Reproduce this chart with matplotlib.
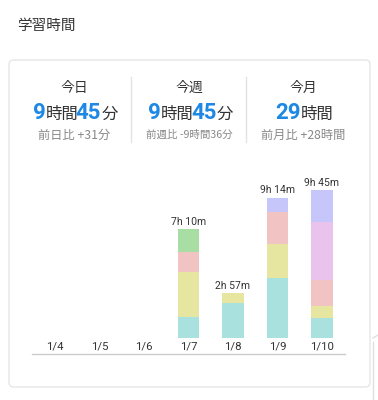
import matplotlib
matplotlib.use('Agg')
import matplotlib.pyplot as plt
from matplotlib.patches import FancyBboxPatch
from matplotlib.lines import Line2D
from matplotlib.transforms import ScaledTranslation

plt.rcParams['font.family'] = ['Noto Sans CJK JP', 'DejaVu Sans']

# data (minutes per subject per day)
days = ['1/4', '1/5', '1/6', '1/7', '1/8', '1/9', '1/10']
cyan = [0, 0, 0, 84, 140, 239, 80]
yellow = [0, 0, 0, 177, 37, 134, 46]
pink = [0, 0, 0, 79, 0, 125, 103]
green = [0, 0, 0, 90, 0, 0, 0]
violet = [0, 0, 0, 0, 0, 0, 231]
lavender = [0, 0, 0, 0, 0, 56, 125]
series = [cyan, yellow, pink, green, violet, lavender]
colors = ['#a9e1de', '#e6e6a1', '#f1c3c3', '#a8dda3', '#e9c3ec', '#c6c6fa']

headers = ['今日', '今週', '今月']
big_values = [[('9', True), ('時間', False), ('45', True), ('分', False)],
              [('9', True), ('時間', False), ('45', True), ('分', False)],
              [('29', True), ('時間', False)]]
compare = ['前日比 +31分', '前週比 -9時間36分', '前月比 +28時間']

W, H = 378, 400
fig = plt.figure(figsize=(W / 100, H / 100), dpi=100)
renderer = fig.canvas.get_renderer()


def fx(x):
    return x / W


def fy(y):
    return 1 - y / H


# title
fig.text(fx(17), fy(26), '学習時間', fontsize=10.5, color='#333333', va='center', ha='left')

# card
card = FancyBboxPatch((fx(9), fy(387)), fx(361), (327) / H,
                      boxstyle='round,pad=0,rounding_size=0.012',
                      transform=fig.transFigure, facecolor='white',
                      edgecolor='#e6e6e6', linewidth=1.0, zorder=-5)
fig.patches.append(card)
# edge of the next card on the right
fig.add_artist(Line2D([fx(373), fx(373)], [fy(342), fy(400)], color='#e0e0e0', lw=1.0))
fig.add_artist(Line2D([fx(373), fx(378)], [fy(338), fy(335)], color='#e0e0e0', lw=1.0))

# header
col_x = [74, 189, 303]
for x in [131, 246]:
    fig.add_artist(Line2D([fx(x), fx(x)], [fy(77), fy(142)], color='#e3e3e3', lw=1.0))

for i, cx in enumerate(col_x):
    fig.text(fx(cx), fy(88), headers[i], fontsize=10, color='#333333', ha='center', va='center')
    # build the mixed value text piece by piece
    pieces = []
    for txt, bold in big_values[i]:
        if bold:
            t = fig.text(0, fy(119), txt, fontsize=16, fontweight='bold', color='#1e88e5',
                         family=['Roboto', 'Noto Sans CJK JP'], ha='left', va='baseline')
        else:
            t = fig.text(0, fy(119), txt, fontsize=11.8, color='#333333',
                         ha='left', va='baseline')
        pieces.append(t)
    widths = [p.get_window_extent(renderer).width - (0 if big_values[i][k][1] else 2.5)
              for k, p in enumerate(pieces)]
    start = cx - sum(widths) / 2
    for p, w in zip(pieces, widths):
        p.set_x(fx(start))
        start += w
    fig.text(fx(cx), fy(135), compare[i], fontsize=8.8 if i != 1 else 7.6,
             color='#888888', ha='center', va='center')

# bar chart axes: x from 32 to 345 px, bottom line at 354 px, zero at 338 px
scale = 0.2528  # px per minute
ax_top, ax_bot = 160, 354
ax = fig.add_axes([fx(32), fy(ax_bot), fx(345 - 32), (ax_bot - ax_top) / H])
ax.set_xlim(-0.517, 6.517)
ax.set_ylim(-(ax_bot - 338) / scale, (338 - ax_top) / scale)

x = list(range(len(days)))
bottom = [0] * len(days)
for vals, c in zip(series, colors):
    ax.bar(x, vals, width=0.49, bottom=bottom, color=c, linewidth=0)
    bottom = [b + v for b, v in zip(bottom, vals)]

for i, total in enumerate(bottom):
    if total > 0:
        ax.annotate(f'{total // 60}h {total % 60}m', (i, total), xytext=(0, 7.5),
                    textcoords='offset pixels', ha='center', va='center',
                    fontsize=7.5, color='#333333', family=['Roboto', 'DejaVu Sans'])

off = ax.transData + ScaledTranslation(0, -9 / 100, fig.dpi_scale_trans)
for i, d in enumerate(days):
    ax.text(i, 0, d, transform=off, ha='center', va='center', fontsize=8.2,
            color='#333333', family=['Roboto', 'DejaVu Sans'])

ax.set_xticks([])
ax.set_yticks([])
for s in ['top', 'left', 'right']:
    ax.spines[s].set_visible(False)
ax.spines['bottom'].set_color('#cccccc')
ax.spines['bottom'].set_linewidth(1.0)
ax.patch.set_alpha(0)

fig.savefig('out.png', dpi=100)
